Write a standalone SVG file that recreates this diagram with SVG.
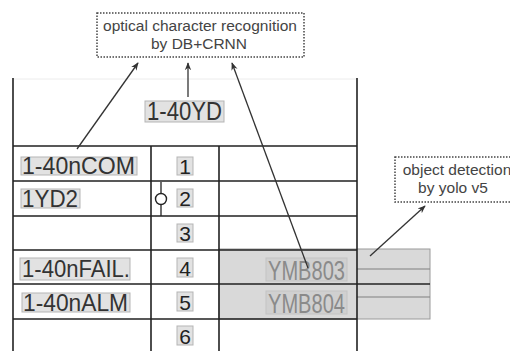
<svg xmlns="http://www.w3.org/2000/svg" width="510" height="351" viewBox="0 0 510 351">
<style>
.grid{stroke:#222;stroke-width:1.6;fill:none}
.lbl{fill:#e2e2e2;stroke:#b5b5b5;stroke-width:1}
.t{font-family:"Liberation Sans",Arial,sans-serif;fill:#333}
.num{font-family:"Liberation Sans",Arial,sans-serif;fill:#222;font-size:21px;text-anchor:middle}
.ym{font-family:"Liberation Sans",Arial,sans-serif;fill:#8a8a8a;font-size:27px}
.note{fill:#fff;stroke:#444;stroke-width:1.5;stroke-dasharray:1.5 1.5}
.nt{font-family:"Liberation Sans",Arial,sans-serif;fill:#444;font-size:15.5px;text-anchor:middle}
.arr{stroke:#333;stroke-width:1.3;fill:none;marker-end:url(#ah)}
</style>
<defs>
<marker id="ah" viewBox="0 0 10 10" refX="9" refY="5" markerWidth="8" markerHeight="8" markerUnits="userSpaceOnUse" orient="auto">
<path d="M0,1 L10,5 L0,9 L3,5 Z" fill="#333"/>
</marker>
</defs>
<rect width="510" height="351" fill="#fff"/>
<g id="table">
<line x1="13" y1="79" x2="357" y2="79" stroke="#ececec" stroke-width="1"/>
<rect x="219" y="249" width="211" height="70" fill="#d9d9d9" stroke="#9a9a9a" stroke-width="1"/>
<line x1="357" y1="269" x2="430" y2="269" stroke="#808080" stroke-width="1.2"/>
<line x1="357" y1="297" x2="430" y2="297" stroke="#808080" stroke-width="1.2"/>
<line class="grid" x1="357" y1="284" x2="430" y2="284" stroke="#555"/>
<path class="grid" d="M13,78 V351 M357,78 V351 M151,146 V351 M219,146 V351 M13,146 H357 M13,181 H357 M13,216 H357 M13,250 H357 M13,284 H357 M13,319 H357"/>
<line x1="161" y1="182" x2="161" y2="216" stroke="#222" stroke-width="1.3"/>
<circle cx="161" cy="199" r="5.5" fill="#fff" stroke="#222" stroke-width="1.4"/>
</g>
<g id="labels">
<rect class="lbl" x="145" y="101" width="79" height="21"/>
<text class="t" x="147" y="120" font-size="25" textLength="75" lengthAdjust="spacingAndGlyphs">1-40YD</text>
<rect class="lbl" x="21" y="157" width="116" height="18"/>
<text class="t" x="22" y="174" font-size="23.5" textLength="113" lengthAdjust="spacingAndGlyphs">1-40nCOM</text>
<rect class="lbl" x="21" y="189" width="59" height="19"/>
<text class="t" x="22" y="207" font-size="23.5" textLength="56" lengthAdjust="spacingAndGlyphs">1YD2</text>
<rect class="lbl" x="20" y="258" width="110" height="22"/>
<text class="t" x="22" y="277" font-size="23.5" textLength="108" lengthAdjust="spacingAndGlyphs">1-40nFAIL.</text>
<rect class="lbl" x="22" y="293" width="108" height="19"/>
<text class="t" x="23" y="311" font-size="23.5" textLength="105" lengthAdjust="spacingAndGlyphs">1-40nALM</text>
<rect class="lbl" x="177" y="157" width="16" height="18"/><text class="num" x="185" y="174">1</text>
<rect class="lbl" x="177" y="189" width="16" height="18"/><text class="num" x="185" y="206">2</text>
<rect class="lbl" x="177" y="224" width="16" height="18"/><text class="num" x="185" y="241">3</text>
<rect class="lbl" x="177" y="258" width="16" height="19"/><text class="num" x="185" y="276">4</text>
<rect class="lbl" x="177" y="292" width="16" height="19"/><text class="num" x="185" y="310">5</text>
<rect class="lbl" x="177" y="326" width="16" height="19"/><text class="num" x="185" y="344">6</text>
<rect x="266" y="258" width="81" height="23" fill="#d0d0d0" stroke="#c4c4c4"/>
<text class="ym" x="268" y="280" textLength="77" lengthAdjust="spacingAndGlyphs">YMB803</text>
<rect x="266" y="291" width="81" height="23" fill="#d0d0d0" stroke="#c4c4c4"/>
<text class="ym" x="268" y="313" textLength="77" lengthAdjust="spacingAndGlyphs">YMB804</text>
</g>
<g id="ocr-note">
<rect class="note" x="97" y="13" width="207" height="44"/>
<text class="nt" x="200" y="31">optical character recognition</text>
<text class="nt" x="199" y="49">by DB+CRNN</text>
</g>
<g id="od-note">
<rect class="note" x="395" y="157" width="122" height="45"/>
<text class="nt" x="457" y="175">object detection</text>
<text class="nt" x="453" y="193">by yolo v5</text>
</g>
<g id="connectors">
<line class="arr" x1="77" y1="149" x2="138" y2="63"/>
<line class="arr" x1="188" y1="97" x2="188" y2="63"/>
<line class="arr" x1="308" y1="268" x2="232" y2="63"/>
<line class="arr" x1="370" y1="256" x2="425" y2="206"/>
</g>
</svg>
